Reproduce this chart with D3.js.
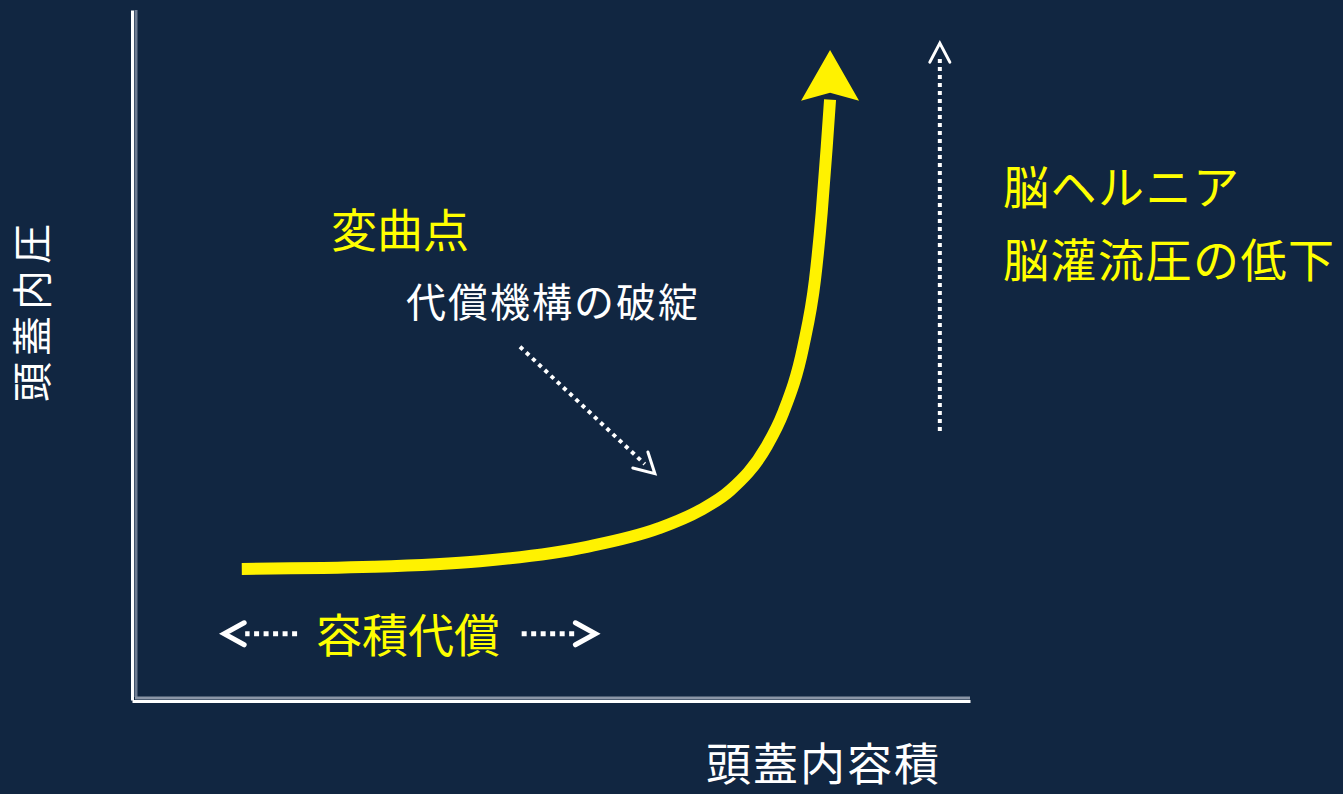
<!DOCTYPE html>
<html>
  <head>
    <meta charset="utf-8">
    <title>頭蓋内圧と頭蓋内容積</title>
    <script type="text/javascript" src="https://cdn.jsdelivr.net/npm/d3@7"></script>
    <style>
      body { margin: 0; background: #112641; }
      text { font-family: "Noto Sans CJK JP", sans-serif; }
    </style>
  </head>
  <body>
    <script type="text/javascript">
     // curve data (arbitrary units, 0-100 on both axes)
     let volume   = [13.1, 28.8, 41.5, 54.3, 62.9, 67.8, 71.4, 75.7, 77.7, 80.1, 81.5, 82.3, 82.9, 83.3];
     let pressure = [19.0, 19.3, 20.1, 22.2, 24.9, 27.5, 30.4, 36.7, 41.6, 51.2, 60.9, 70.6, 80.1, 87.0];
     let curveTip = [83.3, 94.2];

     // labels
     let yLabel = "頭蓋内圧";
     let xLabel = "頭蓋内容積";
     let inflectionLabel = "変曲点";
     let breakdownLabel = "代償機構の破綻";
     let compensationLabel = "容積代償";
     let consequenceLabels = ["脳ヘルニア", "脳灌流圧の低下"];

     // set the canvas
     let w = 1343;
     let h = 794;
     let yellow = "#fff200";
     let textYellow = "#ffff00";

     let svg = d3.select("body").append("svg")
		 .attr("width", w)
		 .attr("height", h)
		 .style("display", "block");

     svg.append("rect")
	.attr("width", w)
	.attr("height", h)
	.attr("fill", "#112641");

     // scales
     let xScale = d3.scaleLinear().domain([0, 100]).range([132, 970]);
     let yScale = d3.scaleLinear().domain([0, 100]).range([700, 10]);

     // axes: white line with a grey shadow on the inside
     svg.append("line")
	.attr("x1", xScale(0) + 4).attr("x2", xScale(0) + 4)
	.attr("y1", yScale(100)).attr("y2", yScale(0) - 3)
	.attr("stroke", "#6f7d93").attr("stroke-width", 3);
     svg.append("line")
	.attr("x1", xScale(0) + 3).attr("x2", xScale(100))
	.attr("y1", yScale(0) - 2).attr("y2", yScale(0) - 2)
	.attr("stroke", "#8a95a6").attr("stroke-width", 3);

     let yAxis = d3.axisLeft(yScale).tickValues([]).tickSizeOuter(0);
     let xAxis = d3.axisBottom(xScale).tickValues([]).tickSizeOuter(0);
     svg.append("g")
	.attr("transform", "translate(" + xScale(0) + ", 0)")
	.call(yAxis)
	.select(".domain")
	.attr("stroke", "#ffffff").attr("stroke-width", 3);
     svg.append("g")
	.attr("transform", "translate(0, " + (yScale(0) + 1) + ")")
	.call(xAxis)
	.select(".domain")
	.attr("stroke", "#ffffff").attr("stroke-width", 3);

     // the pressure-volume curve
     let points = volume.map((v, i) => [xScale(v), yScale(pressure[i])]);
     let line = d3.line().curve(d3.curveMonotoneX);
     svg.append("path")
	.attr("d", line(points))
	.attr("fill", "none")
	.attr("stroke", yellow)
	.attr("stroke-width", 12);

     // arrow head of the curve
     let end = points[points.length - 1];
     let tip = [xScale(curveTip[0]), yScale(curveTip[1])];
     let len = Math.hypot(tip[0] - end[0], tip[1] - end[1]);
     let d = [(tip[0] - end[0]) / len, (tip[1] - end[1]) / len];
     let n = [-d[1], d[0]];
     let at = (b, s) => [end[0] + d[0] * b + n[0] * s, end[1] + d[1] * b + n[1] * s];
     svg.append("path")
	.attr("d", "M" + [tip, at(-1, 29), at(7, 0), at(-1, -29)].map(p => p.join(",")).join("L") + "Z")
	.attr("fill", yellow);

     // dotted arrows with open chevron heads (data units)
     function dottedArrow(from, to, o) {
       let x1 = xScale(from[0]), y1 = yScale(from[1]);
       let x2 = xScale(to[0]), y2 = yScale(to[1]);
       let l = Math.hypot(x2 - x1, y2 - y1);
       let ux = (x2 - x1) / l, uy = (y2 - y1) / l;
       svg.append("line")
	  .attr("x1", x1).attr("y1", y1)
	  .attr("x2", x2 - ux * o.trim).attr("y2", y2 - uy * o.trim)
	  .attr("stroke", "#ffffff")
	  .attr("stroke-width", o.dot)
	  .attr("stroke-dasharray", o.dot + "," + o.gap);
       let wx = -ux * o.head, wy = -uy * o.head;
       let nx = -uy * o.half, ny = ux * o.half;
       svg.append("path")
	  .attr("d", "M" + (x2 + wx + nx) + "," + (y2 + wy + ny) +
		     "L" + x2 + "," + y2 +
		     "L" + (x2 + wx - nx) + "," + (y2 + wy - ny))
	  .attr("fill", "none")
	  .attr("stroke", "#ffffff")
	  .attr("stroke-width", o.width)
	  .attr("stroke-linecap", "round")
	  .attr("stroke-linejoin", "miter");
     }

     dottedArrow([46.3, 51.2], [62.4, 32.8], {dot: 4, gap: 4.5, head: 20, half: 11, width: 3, trim: 14});
     dottedArrow([96.4, 39.0], [96.4, 95.2], {dot: 4, gap: 4, head: 19, half: 10, width: 3, trim: 12});
     dottedArrow([19.7, 9.6], [11.0, 9.6], {dot: 5, gap: 4.5, head: 20, half: 11, width: 5, trim: 21});
     dottedArrow([46.5, 9.6], [55.3, 9.6], {dot: 5, gap: 4.5, head: 20, half: 11, width: 5, trim: 21});

     // labels
     svg.append("text")
	.attr("transform", "translate(47, 310) rotate(-90)")
	.attr("text-anchor", "middle")
	.attr("font-size", 40)
	.attr("letter-spacing", 6)
	.attr("fill", "#ffffff")
	.text(yLabel);

     svg.append("text")
	.attr("x", 706).attr("y", 781)
	.attr("font-size", 45)
	.attr("letter-spacing", 2)
	.attr("fill", "#ffffff")
	.text(xLabel);

     svg.append("text")
	.attr("x", 331).attr("y", 247)
	.attr("font-size", 46)
	.attr("fill", textYellow)
	.text(inflectionLabel);

     svg.append("text")
	.attr("x", 406).attr("y", 317)
	.attr("font-size", 40)
	.attr("letter-spacing", 2)
	.attr("fill", "#ffffff")
	.text(breakdownLabel);

     svg.append("text")
	.attr("x", 316).attr("y", 652)
	.attr("font-size", 46)
	.attr("fill", textYellow)
	.text(compensationLabel);

     svg.selectAll(".consequence")
	.data(consequenceLabels)
	.enter()
	.append("text")
	.attr("class", "consequence")
	.attr("x", 1003)
	.attr("y", (d, i) => 204 + i * 73)
	.attr("font-size", 46)
	.attr("letter-spacing", 1.5)
	.attr("fill", textYellow)
	.text(d => d);
    </script>
  </body>
</html>
